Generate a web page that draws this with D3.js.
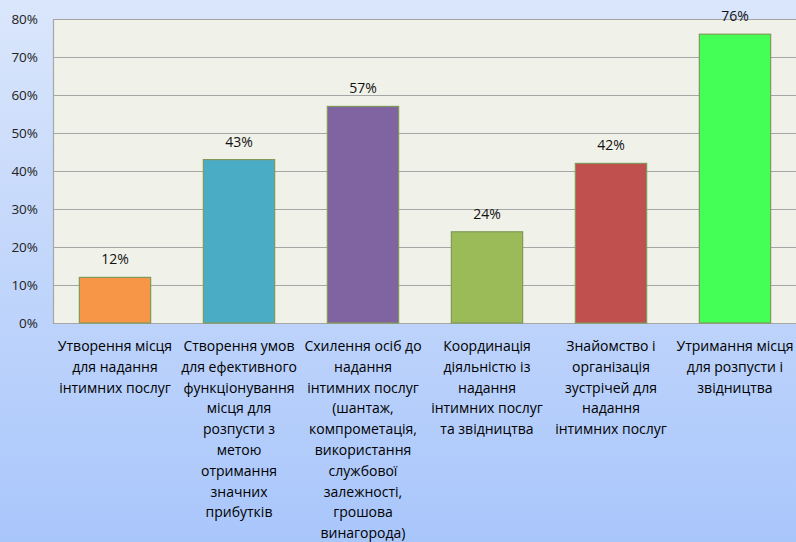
<!DOCTYPE html>
<html>
<head>
<meta charset="utf-8">
<script src="https://cdn.jsdelivr.net/npm/d3@7"></script>
<style>
html,body{margin:0;padding:0;}
body{width:796px;height:542px;overflow:hidden;}
</style>
</head>
<body>
<svg id="chart" width="796" height="542"></svg>
<script>
const categories = [
  ["Утворення місця", "для надання", "інтимних послуг"],
  ["Створення умов", "для ефективного", "функціонування", "місця для", "розпусти з", "метою", "отримання", "значних", "прибутків"],
  ["Схилення осіб до", "надання", "інтимних послуг", "(шантаж,", "компрометація,", "використання", "службової", "залежності,", "грошова", "винагорода)"],
  ["Координація", "діяльністю із", "надання", "інтимних послуг", "та звідництва"],
  ["Знайомство і", "організація", "зустрічей для", "надання", "інтимних послуг"],
  ["Утримання місця", "для розпусти і", "звідництва"]
];
const values = [12, 43, 57, 24, 42, 76];
const colors = ["#f79646", "#4bacc6", "#8064a2", "#9bbb59", "#c0504d", "#44ff55"];
const yTicks = [0, 10, 20, 30, 40, 50, 60, 70, 80];

const svg = d3.select("#chart");
const W = 796, H = 542;
const defs = svg.append("defs");
const grad = defs.append("linearGradient").attr("id", "bg").attr("x1", 0).attr("y1", 0).attr("x2", 0).attr("y2", 1);
grad.append("stop").attr("offset", "0%").attr("stop-color", "#dae6fb");
grad.append("stop").attr("offset", "100%").attr("stop-color", "#a9c6fb");
svg.append("rect").attr("width", W).attr("height", H).attr("fill", "url(#bg)");

const pLeft = 53, pRight = 797, pTop = 19, pBottom = 323;
const x = d3.scaleBand().domain(d3.range(categories.length)).range([pLeft, pRight]).paddingInner(0.425).paddingOuter(0.2125);
const y = d3.scaleLinear().domain([0, 80]).range([pBottom, pTop]);

svg.append("rect").attr("x", pLeft).attr("y", pTop).attr("width", pRight - pLeft).attr("height", pBottom - pTop).attr("fill", "#f0f2ea");

// gridlines
svg.append("g").selectAll("line").data(yTicks).join("line")
  .attr("x1", pLeft).attr("x2", pRight)
  .attr("y1", d => Math.round(y(d)) + 0.5).attr("y2", d => Math.round(y(d)) + 0.5)
  .attr("stroke", "#a6a6a6").attr("stroke-width", 1.2);

// left axis line
svg.append("line").attr("x1", pLeft + 0.5).attr("x2", pLeft + 0.5).attr("y1", pTop).attr("y2", pBottom + 1)
  .attr("stroke", "#a6a6a6").attr("stroke-width", 1.2);

// y axis labels
const yAxis = d3.axisLeft(y).tickValues(yTicks).tickFormat(d => d + "%").tickSize(0).tickPadding(15);
const ya = svg.append("g").attr("transform", `translate(${pLeft},0)`).call(yAxis);
ya.select(".domain").remove();
ya.selectAll("text").attr("font-family", "Open Sans, sans-serif").attr("font-size", 13.5).attr("fill", "#222");

// bars
svg.append("g").selectAll("rect").data(values).join("rect")
  .attr("x", (d, i) => x(i)).attr("width", x.bandwidth())
  .attr("y", d => y(d)).attr("height", d => y(0) - y(d))
  .attr("fill", (d, i) => colors[i])
  .attr("stroke", "#7f9a58").attr("stroke-width", 1.2);

// value labels
svg.append("g").selectAll("text").data(values).join("text")
  .attr("x", (d, i) => x(i) + x.bandwidth() / 2)
  .attr("y", d => y(d) - 13)
  .attr("text-anchor", "middle")
  .attr("font-family", "Open Sans, sans-serif").attr("font-size", 14).attr("fill", "#111")
  .text(d => d + "%");

// category labels
const cg = svg.append("g");
categories.forEach((lines, i) => {
  const t = cg.append("text")
    .attr("x", x(i) + x.bandwidth() / 2)
    .attr("y", 351)
    .attr("text-anchor", "middle")
    .attr("font-family", "Open Sans, sans-serif").attr("font-size", 14).attr("fill", "#000");
  lines.forEach((ln, j) => {
    t.append("tspan").attr("x", x(i) + x.bandwidth() / 2).attr("y", 351 + j * 20.8).text(ln);
  });
});
</script>
</body>
</html>
